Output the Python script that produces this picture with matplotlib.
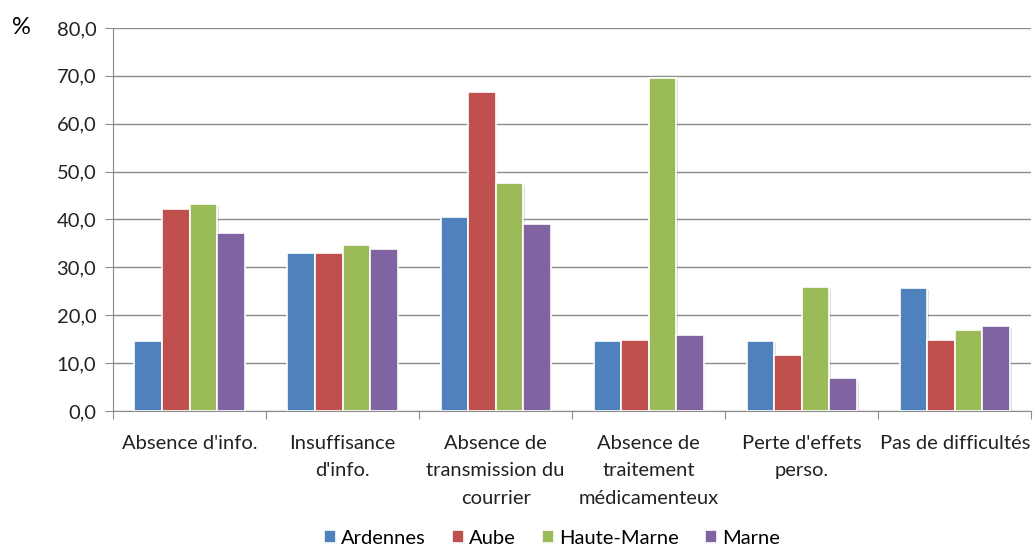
import numpy as np
import matplotlib as mpl
mpl.use('Agg')
import matplotlib.pyplot as plt
import matplotlib.patheffects as pe

plt.rcParams['font.family'] = ['Lato', 'DejaVu Sans']

categories = ["Absence d'info.", "Insuffisance\nd'info.", "Absence de\ntransmission du\ncourrier",
              "Absence de\ntraitement\nmédicamenteux", "Perte d'effets\nperso.", "Pas de difficultés"]
ardennes = [14.6, 33.0, 40.5, 14.6, 14.6, 25.7]
aube = [42.2, 33.0, 66.6, 14.8, 11.7, 14.8]
haute_marne = [43.2, 34.7, 47.6, 69.5, 25.9, 16.9]
marne = [37.2, 33.8, 39.0, 15.9, 6.9, 17.7]
series = ['Ardennes', 'Aube', 'Haute-Marne', 'Marne']
colors = ['#4F81BD', '#C0504D', '#9BBB59', '#8064A2']

fig = plt.figure(figsize=(10.33, 5.49), dpi=100)
ax = fig.add_axes([0.1094, 0.2514, 0.889, 0.6976])

x = np.arange(len(categories))
w = 0.18
shadow = [pe.SimplePatchShadow(offset=(1.2, -1.2), shadow_rgbFace='k', alpha=0.12), pe.Normal()]
for i, (vals, name, c) in enumerate(zip([ardennes, aube, haute_marne, marne], series, colors)):
    bars = ax.bar(x + (i - 1.5) * w, vals, w, color=c, edgecolor='white', linewidth=1.2,
                  label=name, zorder=3)
    for b in bars:
        b.set_path_effects(shadow)

ax.set_ylim(0, 80)
ax.set_xlim(-0.5, len(categories) - 0.5)
ax.set_yticks(np.arange(0, 81, 10))
ax.set_yticklabels([f'{v:.1f}'.replace('.', ',') for v in np.arange(0, 81, 10)])
ax.yaxis.grid(True, color='#8c8c8c', linewidth=1, zorder=0)
ax.set_axisbelow(True)

ax.set_xticks(np.arange(-0.5, len(categories), 1))
ax.set_xticklabels([])
ax.set_xticks(x, minor=True)
ax.set_xticklabels(categories, minor=True, fontsize=14.5, color='#222222', linespacing=1.75)
ax.tick_params(axis='x', which='minor', length=0, pad=17)
ax.tick_params(axis='x', which='major', length=6, color='#8c8c8c')
ax.tick_params(axis='y', length=6, color='#8c8c8c', labelsize=14.5, labelcolor='#222222', pad=6)

for s in ['top', 'right']:
    ax.spines[s].set_visible(False)
ax.spines['left'].set_color('#8c8c8c')
ax.spines['bottom'].set_color('#8c8c8c')

fig.text(0.012, 0.95, '%', fontsize=17, ha='left', va='center')

handles, labels = ax.get_legend_handles_labels()
fig.legend(handles, labels, loc='center', bbox_to_anchor=(0.534, 0.02), ncol=4, frameon=False,
           fontsize=14.5, handlelength=0.6, handleheight=0.6, handletextpad=0.25,
           columnspacing=1.3, borderaxespad=0, borderpad=0)

fig.savefig('out.png', dpi=100)
